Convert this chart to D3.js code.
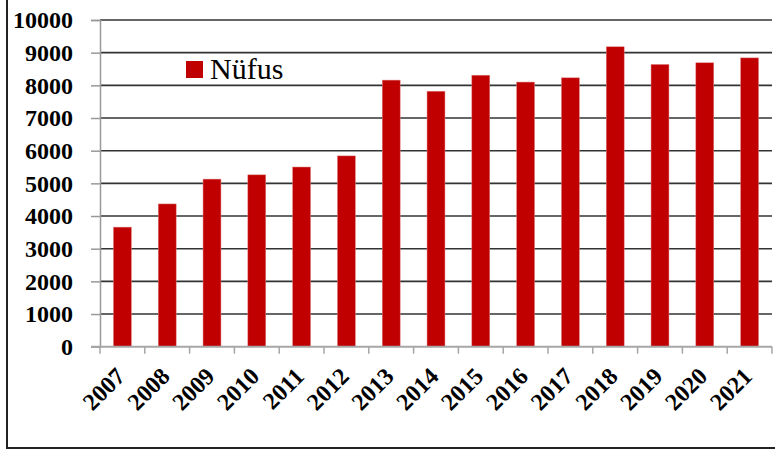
<!DOCTYPE html>
<html>
<head>
<meta charset="utf-8">
<script src="https://cdn.jsdelivr.net/npm/d3@7"></script>
<style>
  body { margin: 0; background: #fff; }
</style>
</head>
<body>
<div id="chart"></div>
<script>
// data
const years = ["2007", "2008", "2009", "2010", "2011", "2012", "2013", "2014",
               "2015", "2016", "2017", "2018", "2019", "2020", "2021"];
const nufus = [3660, 4370, 5130, 5260, 5500, 5840, 8160, 7820,
               8310, 8100, 8230, 9180, 8640, 8690, 8840];
const yTicks = [0, 1000, 2000, 3000, 4000, 5000, 6000, 7000, 8000, 9000, 10000];
const seriesName = "Nüfus";

const FONT = '"Liberation Serif", "Times New Roman", serif';

const W = 775, H = 452;
const margin = { top: 20, right: 3, bottom: 105, left: 100 };
const width = W - margin.left - margin.right;
const height = H - margin.top - margin.bottom - 0.3;

const svg = d3.select("#chart").append("svg")
    .attr("width", W)
    .attr("height", H);

// outer frame (only left and bottom edges visible)
svg.append("rect")
    .attr("x", 7).attr("y", -10)
    .attr("width", W + 20).attr("height", 458)
    .attr("fill", "none")
    .attr("stroke", "#222")
    .attr("stroke-width", 2);

const g = svg.append("g")
    .attr("transform", `translate(${margin.left},${margin.top})`);

const x = d3.scaleBand()
    .domain(years)
    .range([0, width])
    .paddingInner(0.6)
    .paddingOuter(0.3);

const y = d3.scaleLinear()
    .domain([0, 10000])
    .range([height, 0]);

// gridlines
g.selectAll("line.grid")
    .data(yTicks.filter(d => d > 0))
    .enter().append("line")
    .attr("class", "grid")
    .attr("x1", 0).attr("x2", width)
    .attr("y1", d => y(d)).attr("y2", d => y(d))
    .attr("stroke", "#333")
    .attr("stroke-width", 1.6);

// y axis
const yAxis = g.append("g")
    .call(d3.axisLeft(y).tickValues(yTicks).tickSize(9).tickPadding(18).tickFormat(d3.format("d")));
yAxis.select(".domain").attr("stroke", "#999").attr("stroke-width", 1.5);
yAxis.selectAll(".tick line").attr("stroke", "#999").attr("stroke-width", 1.5);
yAxis.selectAll(".tick text")
    .style("font-family", FONT)
    .style("font-size", "24px")
    .style("font-weight", "bold")
    .attr("fill", "#000");

// bars
g.selectAll("rect.bar")
    .data(years)
    .enter().append("rect")
    .attr("class", "bar")
    .attr("x", d => x(d))
    .attr("y", (d, i) => y(nufus[i]))
    .attr("width", x.bandwidth())
    .attr("height", (d, i) => height - y(nufus[i]))
    .attr("fill", "#c00000")
    .attr("stroke", "#e08080")
    .attr("stroke-width", 0.5);

// x axis line + ticks at category boundaries
g.append("line")
    .attr("x1", -9).attr("x2", width)
    .attr("y1", height).attr("y2", height)
    .attr("stroke", "#a6a6a6")
    .attr("stroke-width", 2);

g.selectAll("line.xtick")
    .data(d3.range(years.length + 1))
    .enter().append("line")
    .attr("class", "xtick")
    .attr("x1", i => i * x.step()).attr("x2", i => i * x.step())
    .attr("y1", height).attr("y2", height + 7)
    .attr("stroke", "#a6a6a6")
    .attr("stroke-width", 1.5);

// rotated year labels
g.selectAll("text.xlab")
    .data(years)
    .enter().append("text")
    .attr("class", "xlab")
    .attr("transform", d => `translate(${x(d) + x.bandwidth() / 2 + 4},${height + 31}) rotate(-45)`)
    .attr("text-anchor", "end")
    .style("font-family", FONT)
    .style("font-size", "24px")
    .style("font-weight", "bold")
    .text(d => d);

// legend
svg.append("rect")
    .attr("x", 186).attr("y", 61)
    .attr("width", 17).attr("height", 17)
    .attr("fill", "#c00000");

svg.append("text")
    .attr("x", 210).attr("y", 79)
    .style("font-family", FONT)
    .style("font-size", "30px")
    .attr("fill", "#000")
    .text(seriesName);
</script>
</body>
</html>
